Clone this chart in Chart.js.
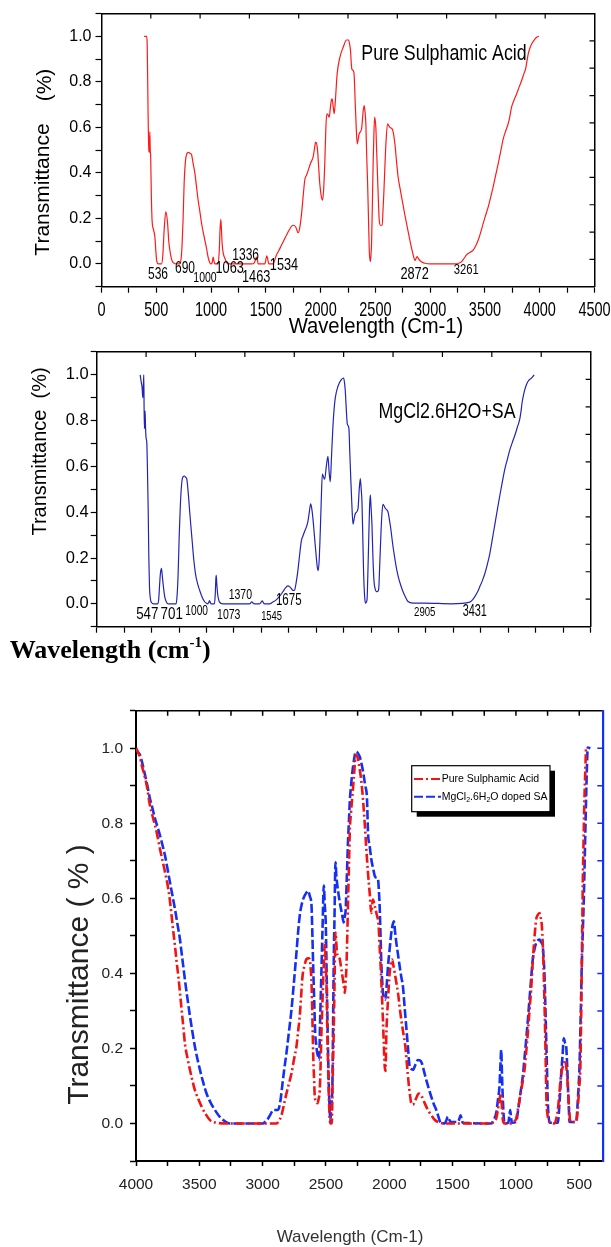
<!DOCTYPE html>
<html>
<head>
<meta charset="utf-8">
<title>FTIR spectra - Sulphamic acid</title>
<script src="https://cdn.jsdelivr.net/npm/chart.js@4.4.1/dist/chart.umd.min.js"></script>
<style>
  html, body { margin: 0; padding: 0; background: #fff; }
  #page { position: relative; width: 611px; height: 1247px; overflow: hidden; }
  canvas { position: absolute; left: 0; }
</style>
</head>
<body>
<div id="page">
  <canvas id="pureChart" width="611" height="346" style="top:0px"></canvas>
  <canvas id="mgChart" width="611" height="330" style="top:340px"></canvas>
  <canvas id="compareChart" width="611" height="577" style="top:670px"></canvas>
</div>
<script>
// ---- data (wavenumber cm-1, transmittance) ----

// top panel: pure sulphamic acid
const pureWave = [389,411,417,425,432,437,441,445,449,455,
  462,475,487,497,505,520,548,560,572,587,
  603,614,624,640,654,690,715,728,736,745,
  754,767,780,791,805,822,837,852,867,882,
  898,913,928,943,958,973,985,998,1010,1019,
  1026,1034,1065,1075,1082,1089,1095,1101,1112,1126,
  1140,1156,1369,1395,1415,1422,1430,1491,1509,1518,
  1527,1567,1583,1598,1620,1643,1666,1689,1712,1735,
  1756,1775,1795,1810,1826,1841,1856,1871,1886,1910,
  1932,1945,1954,1963,1972,1983,1993,2005,2018,2028,
  2039,2048,2057,2068,2078,2090,2098,2105,2115,2124,
  2135,2151,2176,2206,2237,2255,2265,2273,2280,2285,
  2304,2310,2315,2325,2334,2352,2374,2389,2398,2405,
  2413,2421,2429,2437,2444,2453,2460,2465,2472,2480,
  2487,2493,2504,2512,2520,2528,2535,2547,2562,2570,
  2577,2587,2596,2611,2632,2657,2678,2693,2708,2724,
  2739,2769,2799,2830,2850,2861,2872,2882,2894,2906,
  2930,2952,2997,3241,3265,3287,3310,3332,3362,3393,
  3416,3439,3462,3484,3507,3530,3553,3575,3598,3621,
  3644,3667,3690,3712,3728,3743,3766,3789,3812,3835,
  3855,3871,3883,3895,3910,3926,3941,3956,3975,3993];
const pureT = [1.0,1.0,0.97,0.67,0.5,0.49,0.58,0.5,0.47,0.3,
  0.19,0.15,0.12,0.05,0.01,0,0,0.04,0.15,0.23,
  0.18,0.1,0.06,0.02,0.006,0,0,0.03,0.09,0.2,
  0.35,0.455,0.485,0.49,0.487,0.48,0.44,0.4,0.34,0.28,
  0.23,0.18,0.14,0.105,0.07,0.03,0.01,0,0.005,0.03,
  0.015,0,0,0.06,0.15,0.196,0.15,0.09,0.045,0.025,
  0.008,0,0,0.005,0.03,0.02,0,0,0.036,0.02,
  0,0,0.02,0.04,0.06,0.083,0.105,0.127,0.148,0.166,
  0.17,0.16,0.137,0.16,0.22,0.3,0.37,0.39,0.41,0.445,
  0.47,0.51,0.535,0.53,0.5,0.42,0.35,0.3,0.28,0.33,
  0.455,0.6,0.66,0.655,0.645,0.69,0.72,0.725,0.69,0.66,
  0.72,0.835,0.908,0.952,0.984,0.984,0.965,0.937,0.88,0.857,
  0.842,0.79,0.718,0.6,0.528,0.572,0.594,0.674,0.696,0.67,
  0.616,0.47,0.353,0.2,0.061,0.01,0.04,0.09,0.25,0.455,
  0.58,0.645,0.6,0.49,0.38,0.27,0.193,0.17,0.17,0.24,
  0.31,0.43,0.528,0.616,0.6,0.59,0.528,0.45,0.38,0.335,
  0.295,0.215,0.142,0.069,0.03,0.015,0.025,0.032,0.022,0.015,
  0.007,0.003,0,0,0.004,0.01,0.025,0.04,0.05,0.061,
  0.08,0.105,0.14,0.178,0.215,0.251,0.295,0.339,0.39,0.441,
  0.495,0.55,0.585,0.616,0.65,0.689,0.72,0.747,0.777,0.806,
  0.835,0.857,0.89,0.923,0.948,0.966,0.978,0.988,0.997,1.0];

// middle panel: MgCl2.6H2O + SA
const mgWave = [396,405,414,420,425,429,432,435,438,441,
  445,451,456,462,469,475,481,490,499,520,
  557,565,572,580,590,598,608,620,633,650,
  724,733,742,752,761,770,779,790,800,810,
  821,833,845,858,870,885,900,918,937,960,
  982,1000,1012,1020,1028,1036,1043,1073,1080,1086,
  1089,1094,1101,1110,1119,1149,1393,1414,1426,1438,
  1484,1500,1508,1518,1529,1575,1605,1636,1667,1697,
  1720,1742,1760,1773,1788,1803,1818,1833,1848,1864,
  1879,1894,1910,1924,1937,1949,1958,1970,1985,2001,
  2010,2019,2028,2037,2046,2056,2066,2077,2092,2107,
  2117,2128,2140,2152,2163,2174,2198,2229,2250,2258,
  2265,2274,2283,2298,2306,2314,2325,2335,2347,2357,
  2381,2392,2402,2410,2417,2425,2432,2440,2448,2463,
  2470,2478,2486,2493,2500,2508,2517,2526,2537,2548,
  2562,2569,2578,2587,2597,2608,2618,2630,2654,2666,
  2679,2697,2715,2733,2752,2771,2791,2813,2836,2882,
  2989,3232,3399,3422,3445,3468,3490,3513,3536,3558,
  3581,3604,3627,3650,3673,3695,3718,3741,3764,3787,
  3810,3832,3855,3866,3876,3888,3901,3916,3931,3946,
  3962,3975,3986];
const mgT = [1.0,0.97,0.943,0.9,0.95,1.0,0.85,0.765,0.8,0.843,
  0.77,0.72,0.708,0.6,0.416,0.2,0.074,0.02,0.006,0,
  0,0.02,0.074,0.13,0.155,0.12,0.074,0.03,0.01,0,
  0,0.04,0.131,0.3,0.416,0.5,0.544,0.556,0.558,0.553,
  0.544,0.49,0.416,0.34,0.273,0.19,0.131,0.09,0.06,0.03,
  0.01,0.002,0,0.005,0.014,0.005,0,0,0.04,0.11,
  0.124,0.09,0.046,0.02,0.007,0,0,0.009,0.002,0,
  0,0.008,0.013,0.005,0,0,0.008,0.017,0.033,0.053,
  0.07,0.078,0.074,0.067,0.058,0.06,0.095,0.145,0.21,0.273,
  0.296,0.316,0.335,0.359,0.4,0.437,0.42,0.373,0.29,0.202,
  0.16,0.145,0.2,0.316,0.45,0.566,0.555,0.544,0.6,0.644,
  0.58,0.533,0.65,0.772,0.85,0.9,0.95,0.979,0.986,0.965,
  0.929,0.85,0.786,0.765,0.66,0.558,0.43,0.348,0.375,0.395,
  0.416,0.5,0.547,0.5,0.444,0.28,0.131,0.04,0.003,0.017,
  0.12,0.273,0.42,0.476,0.42,0.345,0.2,0.103,0.065,0.053,
  0.055,0.063,0.16,0.273,0.38,0.434,0.428,0.416,0.402,0.37,
  0.33,0.26,0.202,0.15,0.11,0.08,0.053,0.03,0.01,0.003,
  0.003,0,0.007,0.016,0.031,0.05,0.074,0.1,0.131,0.17,
  0.217,0.28,0.345,0.41,0.473,0.53,0.587,0.63,0.672,0.705,
  0.736,0.77,0.808,0.84,0.879,0.91,0.936,0.958,0.972,0.98,
  0.986,0.993,1.0];

// bottom panel: overlay (reversed axis), pure SA
const cmpPureWave = [4000,3968,3955,3935,3916,3890,3870,3850,3830,3811,
  3790,3771,3750,3737,3719,3705,3692,3679,3666,3653,
  3640,3627,3614,3594,3574,3555,3535,3508,3482,3450,
  3416,3364,3285,2890,2870,2851,2832,2812,2792,2772,
  2753,2733,2720,2707,2696,2685,2670,2654,2640,2628,
  2620,2614,2607,2601,2594,2588,2577,2567,2558,2549,
  2542,2536,2529,2522,2515,2509,2502,2496,2490,2483,
  2476,2470,2462,2454,2447,2439,2432,2425,2413,2402,
  2391,2380,2370,2360,2351,2344,2338,2331,2325,2318,
  2312,2302,2291,2278,2265,2250,2234,2214,2194,2181,
  2168,2155,2142,2129,2115,2102,2084,2076,2068,2059,
  2050,2043,2036,2030,2023,2010,1997,1988,1978,1967,
  1957,1944,1931,1918,1905,1889,1873,1860,1847,1836,
  1826,1813,1800,1784,1768,1755,1742,1725,1708,1688,
  1668,1642,1616,1563,1431,1195,1175,1156,1143,1130,
  1123,1116,1110,1103,1090,1037,1018,998,978,958,
  945,932,919,906,893,880,869,859,850,840,
  827,814,805,795,788,782,775,769,764,759,
  751,743,720,696,682,669,658,648,638,629,
  619,609,602,595,590,585,578,570,525,518,
  512,502,491,485,480,476,472,466,459,452,
  446,440];
const cmpPureT = [1.0,0.975,0.955,0.93,0.902,0.848,0.82,0.795,0.765,0.732,
  0.7,0.67,0.635,0.607,0.554,0.51,0.473,0.43,0.393,0.35,
  0.304,0.26,0.214,0.175,0.143,0.115,0.089,0.065,0.045,0.025,
  0.009,0.002,0,0,0.008,0.022,0.05,0.08,0.107,0.134,
  0.17,0.205,0.245,0.286,0.34,0.393,0.42,0.438,0.44,0.438,
  0.41,0.375,0.28,0.1875,0.12,0.071,0.058,0.054,0.065,0.089,
  0.16,0.241,0.31,0.384,0.44,0.482,0.43,0.375,0.26,0.152,
  0.06,0.01,0,0,0.12,0.241,0.38,0.509,0.455,0.445,
  0.438,0.415,0.393,0.37,0.348,0.38,0.42,0.51,0.598,0.69,
  0.777,0.83,0.875,0.93,0.982,0.975,0.946,0.89,0.8,0.73,
  0.668,0.615,0.561,0.597,0.58,0.561,0.526,0.47,0.419,0.35,
  0.276,0.21,0.152,0.14,0.241,0.33,0.401,0.425,0.437,0.42,
  0.401,0.375,0.348,0.31,0.276,0.24,0.205,0.155,0.107,0.075,
  0.053,0.05,0.058,0.07,0.08,0.078,0.071,0.058,0.045,0.032,
  0.022,0.01,0.004,0,0,0,0.005,0.013,0.035,0.062,
  0.075,0.08,0.04,0.009,0,0,0.005,0.013,0.05,0.089,
  0.115,0.143,0.19,0.241,0.3,0.356,0.42,0.472,0.51,0.544,
  0.556,0.561,0.55,0.526,0.48,0.419,0.33,0.241,0.15,0.062,
  0.025,0.009,0.002,0,0.012,0.036,0.075,0.116,0.14,0.152,
  0.162,0.169,0.15,0.125,0.095,0.062,0.03,0.004,0.004,0.015,
  0.036,0.09,0.152,0.28,0.419,0.53,0.642,0.75,0.865,0.94,
  0.998,1.0];

// bottom panel: overlay, MgCl2.6H2O doped SA
const cmpMgWave = [4000,3985,3968,3950,3929,3910,3890,3870,3850,3830,
  3811,3791,3771,3752,3732,3712,3692,3672,3653,3640,
  3627,3614,3600,3587,3574,3555,3535,3515,3495,3470,
  3443,3410,3377,3344,3311,3285,3259,2996,2977,2957,
  2937,2917,2898,2878,2859,2843,2828,2812,2792,2772,
  2752,2733,2720,2707,2694,2680,2660,2641,2627,2614,
  2607,2601,2593,2585,2577,2569,2561,2554,2545,2536,
  2527,2517,2509,2501,2496,2491,2484,2478,2471,2465,
  2457,2449,2444,2439,2432,2425,2418,2410,2398,2386,
  2373,2360,2352,2344,2335,2325,2318,2312,2302,2291,
  2278,2265,2250,2234,2220,2207,2190,2176,2168,2155,
  2142,2128,2115,2102,2089,2082,2076,2069,2062,2056,
  2050,2040,2031,2020,2010,1997,1984,1973,1963,1954,
  1944,1931,1918,1905,1892,1879,1866,1852,1839,1826,
  1813,1793,1774,1758,1742,1725,1708,1688,1668,1649,
  1629,1612,1595,1563,1550,1537,1526,1516,1458,1447,
  1437,1428,1419,1195,1175,1156,1143,1130,1123,1116,
  1110,1103,1090,1060,1052,1045,1038,1032,998,985,
  972,959,946,932,919,906,893,880,867,853,
  840,827,814,801,788,781,775,768,762,755,
  749,742,735,669,655,642,632,622,612,603,
  596,590,583,577,525,510,498,489,480,472,
  464,455,446,440,433,412];
const cmpMgT = [1.0,0.99,0.982,0.96,0.929,0.9,0.866,0.84,0.8125,0.79,
  0.768,0.742,0.714,0.68,0.643,0.607,0.571,0.53,0.491,0.455,
  0.42,0.384,0.348,0.317,0.286,0.245,0.205,0.172,0.143,0.11,
  0.08,0.055,0.036,0.02,0.009,0.003,0,0,0.006,0.013,
  0.025,0.036,0.036,0.036,0.062,0.107,0.148,0.1875,0.245,0.304,
  0.38,0.455,0.51,0.554,0.58,0.598,0.612,0.62,0.605,0.58,
  0.5,0.42,0.33,0.241,0.21,0.1875,0.178,0.17,0.29,0.402,
  0.52,0.634,0.58,0.527,0.43,0.33,0.2,0.107,0.04,0.009,
  0.05,0.107,0.26,0.42,0.56,0.696,0.66,0.634,0.605,0.58,
  0.558,0.536,0.55,0.571,0.66,0.759,0.81,0.857,0.9,0.9375,
  0.97,0.991,0.988,0.978,0.96,0.9375,0.9,0.866,0.775,0.74,
  0.704,0.68,0.66,0.655,0.651,0.62,0.579,0.5,0.419,0.38,
  0.348,0.335,0.33,0.37,0.419,0.465,0.508,0.53,0.539,0.51,
  0.481,0.45,0.419,0.39,0.365,0.31,0.258,0.2,0.152,0.145,
  0.143,0.157,0.169,0.168,0.16,0.138,0.116,0.093,0.071,0.052,
  0.036,0.018,0.002,0,0.008,0.018,0.01,0.004,0.004,0.012,
  0.022,0.01,0.002,0,0.01,0.027,0.06,0.098,0.15,0.196,
  0.13,0.062,0,0.002,0.02,0.036,0.015,0.002,0.004,0.03,
  0.062,0.093,0.125,0.175,0.223,0.275,0.33,0.385,0.437,0.465,
  0.481,0.488,0.49,0.483,0.472,0.44,0.401,0.32,0.241,0.15,
  0.062,0.02,0.002,0.002,0.06,0.134,0.18,0.227,0.215,0.205,
  0.16,0.107,0.05,0.004,0.004,0.07,0.152,0.28,0.419,0.51,
  0.597,0.73,0.865,0.94,1.002,1.0];

// tick positions of the overlay wavenumber axis (labels on every 500)
const cmpTicks = [4000,3750,3500,3250,3000,2750,2500,2250,2000,1750,1500,1250,1000,750,500];

// band labels written on the spectra
const pureBands = ['536','690','1000','1063','1336','1463','1534','2872','3261'];
const mgBands = ['547','701','1000','1073','1370','1545','1675','2905','3431'];

// ---- helpers ----
const FONT = "'Liberation Sans', Arial, Helvetica, sans-serif";

function toPoints(xs, ys) {
  return xs.map((x, i) => ({ x: x, y: ys[i] }));
}

// y ticks every 0.1, labels only on 0.0, 0.2 ... 1.0
function tenthLabel(v) {
  const k = Math.round(v * 10);
  return (k >= 0 && k <= 10 && k % 2 === 0) ? (k / 10).toFixed(1) : '';
}

function useCmpTicks(s) {
  s.ticks = cmpTicks.map(v => ({ value: v }));
}

// ticks drawn on the inside of the frame (top / right mirror axes)
const innerTicks = {
  id: 'innerTicks',
  afterDatasetsDraw(chart, args, opts) {
    const ctx = chart.ctx;
    const a = chart.chartArea;
    (opts.items || []).forEach(it => {
      const s = chart.scales[it.scale];
      ctx.save();
      ctx.strokeStyle = it.color || '#000';
      ctx.lineWidth = it.width || 1.2;
      ctx.beginPath();
      s.ticks.forEach(t => {
        const p = s.getPixelForValue(t.value);
        if (it.side === 'top') {
          if (p <= a.left + 1 || p >= a.right - 1) return;
          ctx.moveTo(p, a.top); ctx.lineTo(p, a.top + it.len);
        } else {
          if (p <= a.top + 1 || p >= a.bottom - 1) return;
          ctx.moveTo(a.right, p); ctx.lineTo(a.right - it.len, p);
        }
      });
      ctx.stroke();
      ctx.restore();
    });
  }
};

// framed legend with drop shadow, samples use the dataset styles
const boxLegend = {
  id: 'boxLegend',
  afterDraw(chart, args, opts) {
    if (!opts.rows) return;
    const ctx = chart.ctx;
    ctx.save();
    ctx.fillStyle = '#000';
    ctx.fillRect(opts.x + opts.shadow, opts.y + opts.shadow, opts.w, opts.h);
    ctx.fillStyle = '#fff';
    ctx.fillRect(opts.x, opts.y, opts.w, opts.h);
    ctx.strokeStyle = '#000';
    ctx.lineWidth = 1.2;
    ctx.strokeRect(opts.x, opts.y, opts.w, opts.h);
    chart.data.datasets.forEach((ds, i) => {
      const y = opts.rows[i];
      ctx.strokeStyle = ds.borderColor;
      ctx.lineWidth = 2;
      ctx.setLineDash(ds.borderDash || []);
      ctx.beginPath();
      ctx.moveTo(opts.lineFrom, y);
      ctx.lineTo(opts.lineTo, y);
      ctx.stroke();
    });
    ctx.restore();
  }
};

// free text: axis titles, band numbers, sample names
const panelText = {
  id: 'panelText',
  afterDraw(chart, args, opts) {
    const ctx = chart.ctx;
    const xs = opts.xTicks;
    if (xs) {
      const sx = chart.scales.x;
      sx.ticks.forEach(t => {
        if (t.value % 500 !== 0) return;
        ctx.save();
        ctx.translate(sx.getPixelForValue(t.value), chart.chartArea.bottom + xs.offset);
        ctx.scale(xs.sx, 1);
        ctx.font = xs.size + 'px ' + FONT;
        ctx.fillStyle = '#000';
        ctx.textAlign = 'center';
        ctx.textBaseline = 'middle';
        ctx.fillText(String(t.value), 0, 0);
        ctx.restore();
      });
    }
    (opts.items || []).forEach(it => {
      let px = it.x, py = it.y;
      if (it.data) {
        px = chart.scales.x.getPixelForValue(it.x);
        py = chart.scales.y.getPixelForValue(it.y);
      }
      const parts = it.parts || [{ t: it.text }];
      const fontOf = p => (p.weight || it.weight || 'normal') + ' ' + (p.size || it.size) + 'px ' + (it.family || FONT);
      ctx.save();
      ctx.translate(px, py);
      if (it.rot) ctx.rotate(it.rot);
      ctx.scale(it.sx || 1, 1);
      ctx.fillStyle = it.color || '#000';
      ctx.textAlign = 'left';
      ctx.textBaseline = it.baseline || 'middle';
      let total = 0;
      parts.forEach(p => { ctx.font = fontOf(p); total += ctx.measureText(p.t).width; });
      let cx = it.align === 'left' ? 0 : -total / 2;
      parts.forEach(p => {
        ctx.font = fontOf(p);
        ctx.fillText(p.t, cx, p.dy || 0);
        cx += ctx.measureText(p.t).width;
      });
      ctx.restore();
    });
  }
};

Chart.defaults.font.family = FONT;
Chart.defaults.color = '#000';

function mirrorScale(position, min, max, step, color, width, reverse) {
  return {
    type: 'linear', position: position, min: min, max: max, reverse: !!reverse,
    ticks: { display: false, stepSize: step },
    grid: { display: false },
    border: { color: color, width: width },
    afterFit: s => { if (position === 'top') s.height = 0; else s.width = 0; }
  };
}

const baseOptions = {
  responsive: false,
  animation: false,
  devicePixelRatio: 1,
  events: []
};

// ---- top panel ----
const pureLabelPos = [[516,-0.047,16],[762,-0.021,16],[945,-0.061,14],[1170,-0.021,17],[1316,0.038,16],
  [1412,-0.057,17],[1666,-0.008,17],[2858,-0.044,17],[3330,-0.026,15]];

new Chart(document.getElementById('pureChart'), {
  type: 'scatter',
  data: {
    datasets: [{
      label: 'Pure Sulphamic Acid',
      data: toPoints(pureWave, pureT),
      showLine: true,
      borderColor: '#ff1a1a',
      borderWidth: 1.2,
      pointRadius: 0,
      cubicInterpolationMode: 'monotone'
    }]
  },
  options: Object.assign({}, baseOptions, {
    layout: { padding: { left: 0, top: 12.3, right: 16.5, bottom: 0 } },
    plugins: {
      legend: { display: false },
      tooltip: { enabled: false },
      innerTicks: { items: [{ scale: 'x2', side: 'top', len: 5 }, { scale: 'y2', side: 'right', len: 5 }] },
      panelText: {
        xTicks: { size: 21, sx: 0.69, offset: 23.3 },
        items: pureBands.map((b, i) => ({ text: b, data: true, x: pureLabelPos[i][0], y: pureLabelPos[i][1], size: pureLabelPos[i][2], sx: 0.75 }))
          .concat([
            { text: 'Pure Sulphamic Acid', data: true, x: 3126, y: 0.923, size: 22, sx: 0.81 },
            { text: 'Transmittance', x: 43.7, y: 189.5, size: 21, rot: -Math.PI / 2 },
            { text: '(%)', x: 45, y: 85, size: 21, rot: -Math.PI / 2 },
            { text: 'Wavelength (Cm-1)', x: 376, y: 326.5, size: 22, sx: 0.92 }
          ])
      }
    },
    scales: {
      x: {
        type: 'linear', min: 0, max: 4500,
        ticks: { stepSize: 250, display: false, autoSkip: false },
        grid: { drawOnChartArea: false, tickLength: 6, color: '#000', tickColor: '#000', tickWidth: 1.2 },
        border: { color: '#000', width: 1.5 },
        afterFit: s => { s.height = 59.3; }
      },
      y: {
        type: 'linear', min: -0.1, max: 1.1,
        ticks: { stepSize: 0.1, autoSkip: false, callback: tenthLabel, color: '#000', font: { size: 16 }, padding: 4 },
        grid: { drawOnChartArea: false, tickLength: 6, color: '#000', tickColor: '#000', tickWidth: 1.2 },
        border: { color: '#000', width: 1.5 },
        afterFit: s => { s.width = 101.5; }
      },
      x2: mirrorScale('top', 0, 10, 1, '#000', 1.5),
      y2: mirrorScale('right', 0, 10, 1, '#000', 1.5)
    }
  }),
  plugins: [innerTicks, panelText]
});

// ---- middle panel ----
const mgLabelPos = [[461,-0.047,16.5,0.81],[683,-0.047,16.5,0.81],[911,-0.03,15,0.68],[1203,-0.048,15,0.7],[1309,0.04,15,0.7],
  [1593,-0.056,13,0.72],[1750,0.014,17,0.68],[2989,-0.036,13,0.74],[3445,-0.036,16,0.68]];

new Chart(document.getElementById('mgChart'), {
  type: 'scatter',
  data: {
    datasets: [{
      label: 'MgCl2.6H2O+SA',
      data: toPoints(mgWave, mgT),
      showLine: true,
      borderColor: '#2424b4',
      borderWidth: 1.2,
      pointRadius: 0,
      cubicInterpolationMode: 'monotone'
    }]
  },
  options: Object.assign({}, baseOptions, {
    layout: { padding: { left: 0, top: 6, right: 20.4, bottom: 0 } },
    plugins: {
      legend: { display: false },
      tooltip: { enabled: false },
      innerTicks: { items: [{ scale: 'x2', side: 'top', len: 5 }, { scale: 'y2', side: 'right', len: 5 }] },
      panelText: {
        items: mgBands.map((b, i) => ({ text: b, data: true, x: mgLabelPos[i][0], y: mgLabelPos[i][1], size: mgLabelPos[i][2], sx: mgLabelPos[i][3] }))
          .concat([
            { text: 'MgCl2.6H2O+SA', data: true, x: 3192, y: 0.84, size: 22, sx: 0.81 },
            { text: 'Transmittance  (%)', x: 40.5, y: 111.5, size: 20, rot: -Math.PI / 2 },
            { x: 9.7, y: 318, align: 'left', baseline: 'alphabetic', family: "'Liberation Serif', 'Times New Roman', serif", weight: 'bold', size: 26,
              parts: [{ t: 'Wavelength (cm' }, { t: '-1', size: 15, dy: -11 }, { t: ')' }] }
          ])
      }
    },
    scales: {
      x: {
        type: 'linear', min: 0, max: 4500,
        ticks: { stepSize: 250, display: false, autoSkip: false },
        grid: { drawOnChartArea: false, tickLength: 6, color: '#000', tickColor: '#000', tickWidth: 1.2 },
        border: { color: '#000', width: 1.5 },
        afterFit: s => { s.height = 43.3; }
      },
      y: {
        type: 'linear', min: -0.1, max: 1.1,
        ticks: { stepSize: 0.1, autoSkip: false, callback: tenthLabel, color: '#000', font: { size: 16.5 }, padding: 2 },
        grid: { drawOnChartArea: false, tickLength: 6, color: '#000', tickColor: '#000', tickWidth: 1.2 },
        border: { color: '#000', width: 1.5 },
        afterFit: s => { s.width = 96.7; }
      },
      x2: mirrorScale('top', 0, 10, 1, '#000', 1.5),
      y2: mirrorScale('right', 0, 10, 1, '#000', 1.5)
    }
  }),
  plugins: [innerTicks, panelText]
});

// ---- bottom panel: overlay ----
const cmpTop = mirrorScale('top', 310, 4000, 250, '#000', 1.5, true);
cmpTop.afterBuildTicks = useCmpTicks;

new Chart(document.getElementById('compareChart'), {
  type: 'scatter',
  data: {
    datasets: [{
      label: 'Pure Sulphamic Acid',
      data: toPoints(cmpPureWave, cmpPureT),
      showLine: true,
      borderColor: '#f21414',
      borderWidth: 2.6,
      borderDash: [9, 3, 2, 3],
      pointRadius: 0,
      cubicInterpolationMode: 'monotone'
    }, {
      label: 'MgCl2.6H2O doped SA',
      data: toPoints(cmpMgWave, cmpMgT),
      showLine: true,
      borderColor: '#1530f5',
      borderWidth: 2.6,
      borderDash: [9, 3],
      pointRadius: 0,
      cubicInterpolationMode: 'monotone'
    }]
  },
  options: Object.assign({}, baseOptions, {
    layout: { padding: { left: 0, top: 40.7, right: 7.7, bottom: 0 } },
    plugins: {
      legend: { display: false },
      tooltip: { enabled: false },
      innerTicks: { items: [{ scale: 'x2', side: 'top', len: 5, width: 1.5 }, { scale: 'y2', side: 'right', len: 6, color: '#1530f5', width: 1.5 }] },
      boxLegend: { x: 411.7, y: 95.7, w: 138.3, h: 46, shadow: 5, rows: [109, 126.7], lineFrom: 414, lineTo: 441 },
      panelText: {
        items: [
          { text: 'Transmittance ( % )', x: 80, y: 304.5, size: 30, rot: -Math.PI / 2, color: '#222' },
          { text: 'Wavelength (Cm-1)', x: 350, y: 567, size: 17, color: '#333' },
          { text: 'Pure Sulphamic Acid', x: 441.7, y: 109, size: 10.5, align: 'left' },
          { x: 441.7, y: 126.7, size: 10.5, align: 'left',
            parts: [{ t: 'MgCl' }, { t: '2', size: 7, dy: 3 }, { t: '.6H' }, { t: '2', size: 7, dy: 3 }, { t: 'O doped SA' }] }
        ]
      }
    },
    scales: {
      x: {
        type: 'linear', min: 310, max: 4000, reverse: true,
        afterBuildTicks: useCmpTicks,
        ticks: { autoSkip: false, maxRotation: 0,
          callback: v => (v % 500 === 0) ? String(v) : '',
          color: '#222', font: { size: 15.5 }, padding: 9.7 },
        grid: { drawOnChartArea: false, tickLength: 5, color: '#000', tickColor: '#000', tickWidth: 1.5 },
        border: { color: '#000', width: 2 },
        afterFit: s => { s.height = 86; }
      },
      y: {
        type: 'linear', min: -0.1, max: 1.1,
        ticks: { stepSize: 0.1, autoSkip: false, callback: tenthLabel, color: '#222', font: { size: 15.5 }, padding: 7 },
        grid: { drawOnChartArea: false, tickLength: 6, color: '#000', tickColor: '#000', tickWidth: 1.5 },
        border: { color: '#000', width: 2 },
        afterFit: s => { s.width = 136; }
      },
      x2: cmpTop,
      y2: mirrorScale('right', -0.1, 1.1, 0.1, '#1530f5', 2.2)
    }
  }),
  plugins: [innerTicks, boxLegend, panelText]
});
</script>
</body>
</html>
